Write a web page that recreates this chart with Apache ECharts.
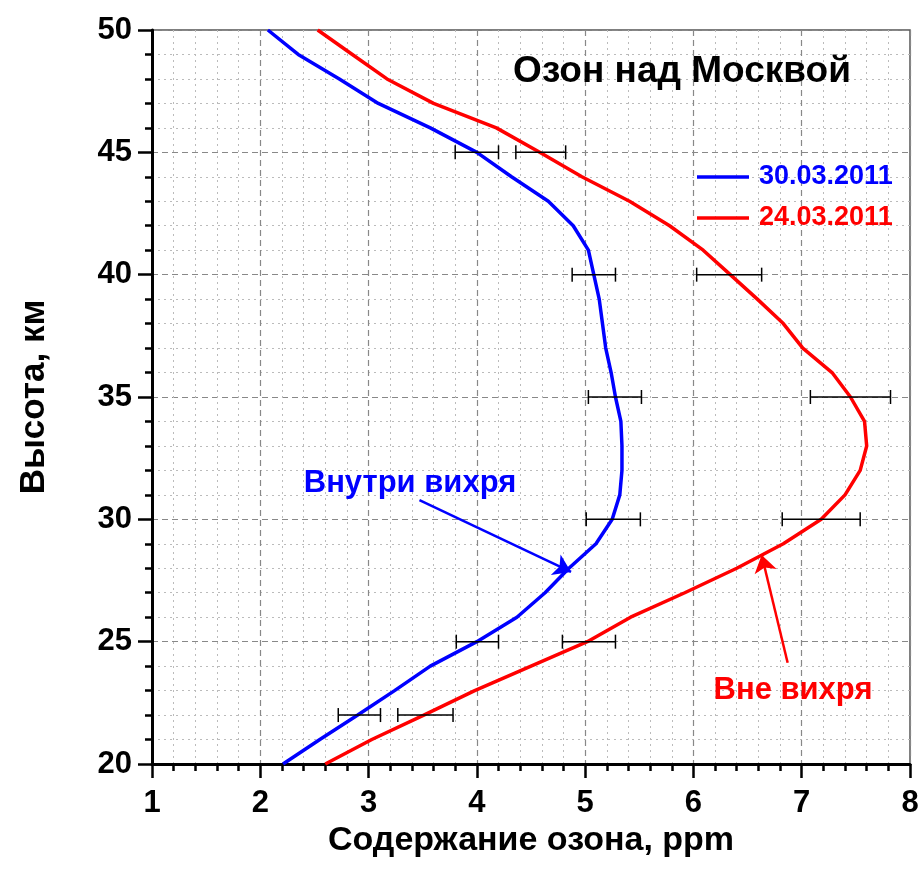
<!DOCTYPE html>
<html><head><meta charset="utf-8">
<script src="https://cdn.jsdelivr.net/npm/echarts@6/dist/echarts.min.js"></script>
<style>html,body{margin:0;padding:0;background:#fff}#c{width:922px;height:883px}</style>
</head><body><div id="c"></div>
<script>
const FONT = "'Liberation Sans', Arial, sans-serif";
const heightKm = [20,21,22,23,24,25,26,27,28,29,30,31,32,33,34,35,36,37,38,39,40,41,42,43,44,45,46,47,48,49,50];
const ozoneInside = [2.21,2.55,2.90,3.24,3.57,4.00,4.37,4.63,4.85,5.10,5.25,5.32,5.34,5.34,5.33,5.28,5.24,5.19,5.16,5.13,5.08,5.03,4.89,4.66,4.32,4.00,3.57,3.09,2.73,2.35,2.07];
const ozoneOutside = [2.60,3.03,3.51,3.98,4.50,5.02,5.42,5.92,6.40,6.83,7.18,7.40,7.54,7.60,7.58,7.45,7.28,7.01,6.83,6.59,6.34,6.09,5.78,5.41,4.97,4.58,4.18,3.60,3.17,2.85,2.53];
const errKm = [45,40,35,30,25,22];
const insideErrLow = [3.80,4.88,5.03,5.01,3.81,2.72];
const insideErrHigh = [4.20,5.28,5.52,5.51,4.20,3.11];
const outsideErrLow = [4.36,6.03,7.08,6.82,4.79,3.27];
const outsideErrHigh = [4.82,6.63,7.82,7.54,5.28,3.78];
const seriesNames = ['30.03.2011','24.03.2011'];
const xTicks = {min:1, max:8, interval:1};
const yTicks = {min:20, max:50, interval:5};
const insideArrow = [[3.47,30.79],[4.87,27.85]];
const outsideArrow = [[6.87,24.14],[6.63,28.54]];

const chart = echarts.init(document.getElementById('c'), null, {renderer:'canvas'});
const errData = [];
errKm.forEach((k,i)=>{ errData.push([insideErrLow[i], insideErrHigh[i], k]); errData.push([outsideErrLow[i], outsideErrHigh[i], k]); });

function axisCommon(){
  return {
    axisLine:{show:true, lineStyle:{color:'#000', width:3}},
    axisTick:{show:true, inside:false, length:14, lineStyle:{color:'#000', width:2.5}},
    minorTick:{show:true, splitNumber:5, length:7, lineStyle:{color:'#000', width:2.5}},
    splitLine:{show:true, lineStyle:{color:'#888', width:1.2, type:[6,4]}},
    minorSplitLine:{show:true, lineStyle:{color:'#bbb', width:1, type:[2,4]}},
    axisLabel:{color:'#000', fontSize:31, fontWeight:'bold', fontFamily:FONT},
    nameTextStyle:{color:'#000', fontSize:34, fontWeight:'bold', fontFamily:FONT}
  };
}

const xAxis = Object.assign(axisCommon(), {
  type:'value', min:xTicks.min, max:xTicks.max, interval:xTicks.interval,
  name:'Содержание озона, ppm', nameLocation:'middle', nameGap:55
});
xAxis.axisLabel.margin = 24;
const yAxis = Object.assign(axisCommon(), {
  type:'value', min:yTicks.min, max:yTicks.max, interval:yTicks.interval,
  name:'Высота, км', nameLocation:'middle', nameGap:100, nameRotate:90
});
yAxis.axisLabel.margin = 20;
yAxis.nameTextStyle.fontSize = 35;

const option = {
  animation:false,
  backgroundColor:'#fff',
  grid:{left:152, right:12, top:30, bottom:119, show:true, borderColor:'#555', borderWidth:1.5, containLabel:false, outerBoundsMode:'none'},
  xAxis: xAxis,
  yAxis: yAxis,
  legend:{
    orient:'vertical', left:697, top:162, padding:0, itemGap:11, icon:'rect', itemWidth:52, itemHeight:3.5,
    textStyle:{fontSize:27, fontWeight:'bold', fontFamily:FONT, lineHeight:30, padding:[0,0,0,5]},
    data:[{name:seriesNames[0], textStyle:{color:'#0000ff'}},{name:seriesNames[1], textStyle:{color:'#ff0000'}}]
  },
  graphic:[
    {type:'text', x:682, y:72, z:100, style:{text:'Озон над Москвой', fill:'#000', font:"bold 37px "+FONT, align:'center', verticalAlign:'middle'}},
    {type:'text', x:410, y:483, z:100, style:{text:'Внутри вихря', fill:'#0000ff', font:"bold 31px "+FONT, align:'center', verticalAlign:'middle'}},
    {type:'text', x:793, y:690, z:100, style:{text:'Вне вихря', fill:'#ff0000', font:"bold 31px "+FONT, align:'center', verticalAlign:'middle'}}
  ],
  series:[
    {name:seriesNames[0], type:'line', showSymbol:false, symbol:'none', smooth:false, z:5,
     lineStyle:{color:'#0000ff', width:3.5}, itemStyle:{color:'#0000ff'},
     data: heightKm.map((k,i)=>[ozoneInside[i], k]),
     markLine:{silent:true, symbol:['none','arrow'], symbolSize:17, label:{show:false},
       lineStyle:{color:'#0000ff', width:2.5, type:'solid'},
       data:[[{coord:insideArrow[0]},{coord:insideArrow[1]}]]}
    },
    {name:seriesNames[1], type:'line', showSymbol:false, symbol:'none', smooth:false, z:5,
     lineStyle:{color:'#ff0000', width:3.5}, itemStyle:{color:'#ff0000'},
     data: heightKm.map((k,i)=>[ozoneOutside[i], k]),
     markLine:{silent:true, symbol:['none','arrow'], symbolSize:17, label:{show:false},
       lineStyle:{color:'#ff0000', width:2.5, type:'solid'},
       data:[[{coord:outsideArrow[0]},{coord:outsideArrow[1]}]]}
    },
    {type:'custom', z:6, silent:true,
     encode:{x:[0,1], y:2},
     data: errData,
     renderItem:function(params, api){
       const lo = api.coord([api.value(0), api.value(2)]);
       const hi = api.coord([api.value(1), api.value(2)]);
       const h = 7;
       const st = {stroke:'#000', lineWidth:1.5};
       return {type:'group', children:[
         {type:'line', shape:{x1:lo[0], y1:lo[1], x2:hi[0], y2:hi[1]}, style:st},
         {type:'line', shape:{x1:lo[0], y1:lo[1]-h, x2:lo[0], y2:lo[1]+h}, style:st},
         {type:'line', shape:{x1:hi[0], y1:hi[1]-h, x2:hi[0], y2:hi[1]+h}, style:st}
       ]};
     }
    }
  ]
};
chart.setOption(option);
</script></body></html>
